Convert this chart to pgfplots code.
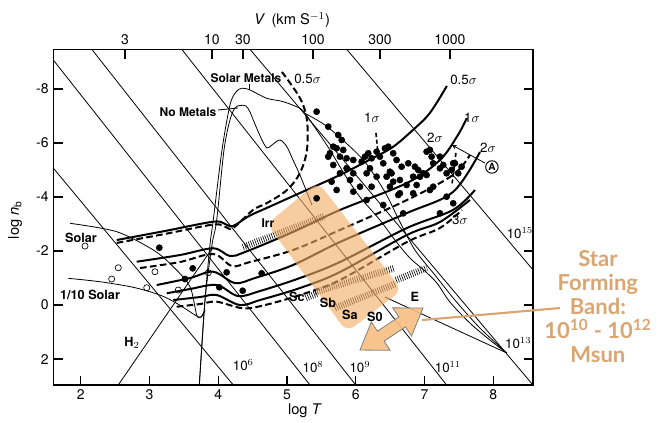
\documentclass[border=0pt]{standalone}
\usepackage{fontspec}
\setmainfont{TeX Gyre Heros}
\newfontfamily\orfont{Lato}
\usepackage{pgfplots}
\pgfplotsset{compat=1.18}
\definecolor{bandc}{RGB}{242,172,100}
\definecolor{arrowc}{RGB}{247,190,130}
\definecolor{tanc}{RGB}{218,165,112}
\begin{document}
\begin{tikzpicture}[x=1pt,y=1pt,
  thinl/.style={line width=0.6pt, black},
  thk/.style={line width=1.5pt, black, smooth, tension=0.55},
  dsh/.style={line width=1.5pt, black, smooth, tension=0.55, dash pattern=on 5pt off 2.5pt},
  hatch/.style={line width=5pt, black, dash pattern=on 0.45pt off 1.2pt},
  lab/.style={font=\fontsize{9}{10}\selectfont\bfseries}]
\begin{axis}[
  scale only axis, width=359.8pt, height=251.8pt,
  xmin=1.6, xmax=8.58, ymin=-9.47, ymax=2.96, y dir=reverse,
  axis line style={line width=1pt},
  xtick={2,3,4,5,6,7,8}, xticklabels={2,3,4,5,6,7,8},
  xtick pos=bottom,
  ytick={-8,-6,-4,-2,0,2}, yticklabels={-8,-6,-4,-2,0,2},
  ytick pos=both,
  tick align=inside,
  major tick length=7pt,
  tick style={line width=0.9pt, black},
  clip=false,
  /pgf/number format/assume math mode=true,
  ticklabel style={font=\fontsize{10.5}{12}\selectfont},
]
% mass lines
\addplot[thinl] coordinates {(1.60,-5.07) (4.218,2.96)};
\addplot[thinl] coordinates {(1.60,-9.07) (5.334,2.96)};
\addplot[thinl] coordinates {(2.159,-9.47) (6.0,2.96)};
\addplot[thinl] coordinates {(3.468,-9.47) (7.322,2.96)};
\addplot[thinl] coordinates {(4.461,-9.47) (8.578,2.96)};
\addplot[thinl] coordinates {(5.868,-9.47) (8.58,-1.30)};
% H2
\addplot[thinl] coordinates {(2.545,2.96) (3.927,-2.16)};
% Solar and 1/10 Solar
\addplot[thinl, smooth, tension=0.5] coordinates {(1.843,-3.026) (2.522,-2.715) (3.055,-2.037) (3.345,-1.419) (3.588,-0.678) (3.686,0.370) (3.749,0.444) (3.807,0.185)};
\addplot[thinl, smooth, tension=0.5] coordinates {(1.818,-0.989) (2.279,-0.863) (2.764,-0.656) (3.152,-0.370) (3.395,-0.063) (3.588,0.248) (3.686,0.407) (3.749,0.444) (3.807,0.185)};
% Solar Metals cooling curve
\addplot[thinl, smooth, tension=0.5] coordinates {(3.724,2.96) (3.807,-0.185) (3.879,-2.222) (3.927,-3.148) (4.054,-5.741) (4.170,-7.407) (4.258,-7.889) (4.341,-8.026) (4.461,-7.963) (4.704,-7.656) (4.945,-7.530) (5.188,-7.285) (5.261,-7.100) (5.431,-6.481) (5.625,-5.741) (5.843,-4.815) (6.061,-4.0) (6.352,-3.148) (6.570,-2.407) (6.788,-1.741) (7.007,-1.259) (7.181,-0.815) (7.370,-0.111) (7.661,0.667) (7.952,1.296) (8.199,1.778)};
% No Metals cooling curve
\addplot[thinl, smooth, tension=0.5] coordinates {(3.724,2.96) (3.807,-0.185) (3.908,-2.222) (3.977,-3.148) (4.083,-5.741) (4.170,-6.852) (4.243,-7.296) (4.316,-7.389) (4.403,-7.370) (4.461,-7.148) (4.533,-6.704) (4.635,-6.111) (4.709,-5.815) (4.781,-5.926) (4.898,-6.111) (5.0,-5.852) (5.087,-5.370) (5.188,-4.815) (5.276,-4.259) (5.363,-3.704)};
% second right branch
\addplot[thinl, smooth, tension=0.5] coordinates {(5.261,-7.100) (5.552,-6.667) (5.843,-6.037) (6.134,-5.296) (6.425,-4.185) (6.643,-3.074) (6.861,-2.037) (7.152,-1.111) (7.443,-0.185) (7.807,0.852) (8.199,1.778)};
% E line
\addplot[thinl] coordinates {(6.425,-0.296) (8.199,1.778)};
% sigma curves
\addplot[thk] coordinates {(2.522,-2.407) (3.2,-2.73) (3.927,-3.085) (4.1,-3.0) (4.214,-2.926) (4.45,-3.3) (4.704,-3.593) (5.188,-4.148) (5.770,-4.815) (6.250,-5.444) (6.541,-5.852) (6.832,-6.481) (7.079,-7.111) (7.326,-8.111)};
\addplot[dsh] coordinates {(2.522,-2.30) (3.2,-2.62) (3.927,-2.98) (4.1,-2.90) (4.214,-2.85) (4.505,-3.519) (4.709,-3.778) (5.0,-4.259) (5.188,-4.889) (5.290,-5.741) (5.290,-6.852) (5.188,-7.667) (4.926,-8.630)};
\addplot[thk] coordinates {(2.813,-1.604) (3.443,-1.852) (3.927,-2.100) (4.170,-1.815) (4.388,-1.963) (5.087,-2.704) (5.770,-3.519) (6.745,-4.519) (7.225,-5.370) (7.487,-6.296) (7.617,-6.926)};
\addplot[dsh] coordinates {(2.861,-1.370) (3.443,-1.593) (3.927,-1.889) (4.199,-1.444) (4.461,-1.593) (5.087,-2.037) (5.770,-2.778) (6.745,-3.889) (7.414,-4.815) (7.661,-5.556)};
\addplot[thk] coordinates {(3.104,-0.741) (3.588,-1.0) (3.927,-1.233) (4.243,-0.815) (4.533,-1.0) (5.087,-1.481) (5.770,-2.333) (6.745,-3.407) (7.414,-4.185) (7.807,-5.667)};
\addplot[thk] coordinates {(3.250,-0.433) (3.588,-0.593) (3.977,-0.741) (4.287,-0.333) (4.607,-0.519) (5.188,-1.0) (5.770,-1.593) (6.745,-2.852) (7.414,-3.519) (7.734,-4.259)};
\addplot[thk] coordinates {(3.345,-0.185) (3.734,-0.296) (3.977,-0.370) (4.316,0.0) (4.607,-0.185) (5.188,-0.630) (5.770,-1.222) (6.745,-2.593) (7.225,-3.074) (7.661,-3.889)};
\addplot[dsh] coordinates {(3.395,0.063) (3.734,-0.037) (3.977,-0.122) (4.364,0.122) (4.679,0.0) (5.188,-0.370) (5.770,-0.926) (6.745,-2.333) (7.225,-2.852) (7.545,-3.519)};
% leader dashes
\addplot[line width=1.2pt, dash pattern=on 3pt off 2pt] coordinates {(6.294,-6.37) (6.323,-5.63)};
\addplot[line width=1.2pt, dash pattern=on 3pt off 2pt] coordinates {(7.079,-5.815) (7.123,-5.185)};
\addplot[line width=1.2pt, dash pattern=on 3pt off 2pt] coordinates {(7.458,-5.63) (7.399,-4.444)};
\addplot[thinl] coordinates {(3.996,-7.222) (4.287,-7.296)};
\addplot[thinl] coordinates {(4.46,-8.2) (4.46,-7.95)};
\addplot[thinl, -stealth] coordinates {(7.879,-5.259) (7.399,-5.926)};
% hatches
\addplot[hatch] coordinates {(4.359,-2.148) (5.552,-3.296)};
\addplot[hatch] coordinates {(5.276,-0.259) (5.450,-0.444)};
\addplot[hatch] coordinates {(5.407,-0.481) (6.570,-1.370)};
\addplot[hatch] coordinates {(5.698,0.111) (6.570,-0.778)};
\addplot[hatch] coordinates {(6.585,-0.926) (7.036,-1.370)};
% open circles
\addplot[only marks, mark=o, mark size=2.3pt, mark options={line width=0.5pt, fill=white}] coordinates {(2.061,-2.185) (2.545,-1.381) (2.449,-0.963) (2.959,-0.641) (3.079,-1.233) (3.418,-0.556) (3.855,-1.196)};
% filled dots
\addplot[only marks, mark=*, mark size=2.3pt, black] coordinates {(3.142,-2.122) (3.628,-1.359) (3.516,-0.963) (4.122,-1.211) (4.015,-0.656) (4.355,-0.530) (4.631,-1.174) (5.431,-3.952)};
\addplot[only marks, mark=*, mark size=2.3pt, black] coordinates {
(5.431,-7.159) (5.600,-6.604) (5.745,-6.296) (5.795,-6.111) (5.673,-5.863) (5.625,-5.619) (5.722,-5.804) (5.818,-5.741) (5.770,-5.493) (5.867,-5.433) (5.964,-5.370) (6.086,-5.307) (6.134,-5.493) (6.182,-5.619) (6.304,-5.678) (6.352,-5.493) (6.231,-5.433) (6.425,-5.804) (6.473,-5.863) (6.545,-5.619) (6.400,-5.248) (6.497,-4.937) (6.594,-5.370) (6.667,-5.122) (6.764,-5.248) (6.861,-5.122) (6.909,-5.0) (6.449,-4.752) (6.521,-4.878) (6.545,-4.567) (6.642,-4.630) (6.740,-4.444) (6.836,-4.752) (6.934,-4.752) (7.031,-4.815) (7.031,-5.678) (7.104,-5.493) (7.127,-5.248) (7.225,-5.063) (7.273,-5.185) (7.322,-4.878) (7.395,-5.0) (7.443,-5.248) (7.491,-4.878) (7.540,-5.122) (7.322,-4.011) (7.127,-4.381) (6.207,-5.063) (6.158,-4.878) (6.304,-4.752) (6.231,-4.381) (6.642,-4.137) (6.497,-4.381) (5.964,-4.878) (5.916,-4.630) (6.062,-4.381) (5.867,-5.063) (5.770,-4.878) (5.649,-4.567) (5.722,-4.259) (5.964,-4.196) (6.158,-3.889) (5.673,-5.185) (5.600,-5.493) (6.886,-4.444) (6.836,-4.137) (7.079,-5.741) (7.225,-5.493) (7.418,-5.248) (6.982,-4.878) (6.619,-4.074) (6.691,-3.396) (6.400,-3.704) (7.225,-3.396) (7.418,-3.767) (7.079,-4.259)};
% star forming band
\addplot[draw=none, fill=bandc, fill opacity=0.62, rounded corners=7pt] coordinates {(5.450,-4.556) (6.672,-0.556) (5.872,1.0) (4.708,-3.0)} -- cycle;
% double arrow
\addplot[draw=gray, line width=0.6pt, fill=arrowc, fill opacity=0.9] coordinates {(6.061,1.667) (6.500,1.674) (6.412,1.337) (6.723,0.811) (6.812,1.148) (6.978,0.111) (6.538,0.104) (6.627,0.441) (6.316,0.967) (6.227,0.630)} -- cycle;
\addplot[tanc, line width=1.6pt] coordinates {(6.963,0.556) (8.970,0.111)};
% labels
\node[lab] at (axis cs:4.403,-8.40) {Solar Metals};
\node[font=\fontsize{10}{12}\selectfont] at (axis cs:5.30,-8.36) {0.5$\sigma$};
\node[lab] at (axis cs:3.559,-7.15) {No Metals};
\node[font=\fontsize{9.5}{11}\selectfont\bfseries] at (axis cs:2.003,-2.48) {Solar};
\node[font=\fontsize{9.5}{11}\selectfont\bfseries] at (axis cs:2.134,-0.37) {1/10 Solar};
\node[font=\fontsize{9.5}{11}\selectfont\bfseries] at (axis cs:2.745,1.41) {H$_2$};
\node[font=\fontsize{10}{12}\selectfont] at (axis cs:7.57,-8.33) {0.5$\sigma$};
\node[font=\fontsize{10}{12}\selectfont] at (axis cs:6.236,-6.93) {1$\sigma$};
\node[font=\fontsize{10}{12}\selectfont] at (axis cs:7.69,-6.93) {1$\sigma$};
\node[font=\fontsize{10}{12}\selectfont] at (axis cs:7.152,-6.19) {2$\sigma$};
\node[font=\fontsize{10}{12}\selectfont] at (axis cs:7.923,-5.82) {2$\sigma$};
\node[circle, draw, line width=0.7pt, inner sep=0.6pt, font=\fontsize{7.5}{8}\selectfont\bfseries] at (axis cs:7.981,-5.111) {A};
\node[font=\fontsize{10}{12}\selectfont] at (axis cs:7.516,-3.15) {3$\sigma$};
\node[font=\fontsize{9}{10}\selectfont\bfseries] at (axis cs:4.723,-3.04) {Irr};
\node[font=\fontsize{9.5}{11}\selectfont\bfseries] at (axis cs:5.145,-0.30) {Sc};
\node[font=\fontsize{9.5}{11}\selectfont\bfseries] at (axis cs:5.596,-0.07) {Sb};
\node[font=\fontsize{9.5}{11}\selectfont\bfseries] at (axis cs:5.916,0.37) {Sa};
\node[font=\fontsize{9.5}{11}\selectfont\bfseries] at (axis cs:6.279,0.44) {S0};
\node[font=\fontsize{9.5}{11}\selectfont\bfseries] at (axis cs:6.861,-0.30) {E};
\node[font=\fontsize{10}{12}\selectfont] at (axis cs:4.364,2.22) {10$^{6}$};
\node[font=\fontsize{10}{12}\selectfont] at (axis cs:5.378,2.30) {10$^{8}$};
\node[font=\fontsize{10}{12}\selectfont] at (axis cs:6.061,2.30) {10$^{9}$};
\node[font=\fontsize{10}{12}\selectfont] at (axis cs:7.341,2.30) {10$^{11}$};
\node[font=\fontsize{10}{12}\selectfont] at (axis cs:8.364,1.42) {10$^{13}$};
\node[font=\fontsize{10}{12}\selectfont] at (axis cs:8.388,-2.66) {10$^{15}$};
% axis titles
\node[font=\fontsize{11}{13}\selectfont] at (axis cs:5.072,-10.556) {\textit{V}\, (km S$^{-1}$)};
\node[font=\fontsize{11}{13}\selectfont] at (axis cs:5.261,3.93) {log \textit{T}};
\node[font=\fontsize{11}{13}\selectfont, rotate=90] at (axis cs:1.043,-3.15) {log \textit{n}$_{\mathrm b}$};
% orange text
\node[font=\orfont\bfseries\fontsize{16.5}{18}\selectfont, text=tanc, align=center] at (axis cs:9.523,0.074) {Star\\Forming\\Band:\\10\textsuperscript{10} - 10\textsuperscript{12}\\Msun};
\end{axis}
\begin{axis}[
  scale only axis, width=359.8pt, height=251.8pt,
  xmin=1.6, xmax=8.58, ymin=-9.47, ymax=2.96, y dir=reverse,
  axis x line*=top, axis y line=none,
  axis line style={line width=1pt},
  xtick={2.643,3.908,4.359,5.378,6.352,7.370},
  xticklabels={3,10,30,100,300,1000},
  tick align=inside, major tick length=7pt,
  tick style={line width=0.9pt, black},
  /pgf/number format/assume math mode=true,
  ticklabel style={font=\fontsize{10.5}{12}\selectfont},
]
\addplot[draw=none] coordinates {(2,0)};
\end{axis}
\pgfresetboundingbox
\path (-40pt,-28.5pt) rectangle (456.5pt,288.75pt);
\end{tikzpicture}
\end{document}
